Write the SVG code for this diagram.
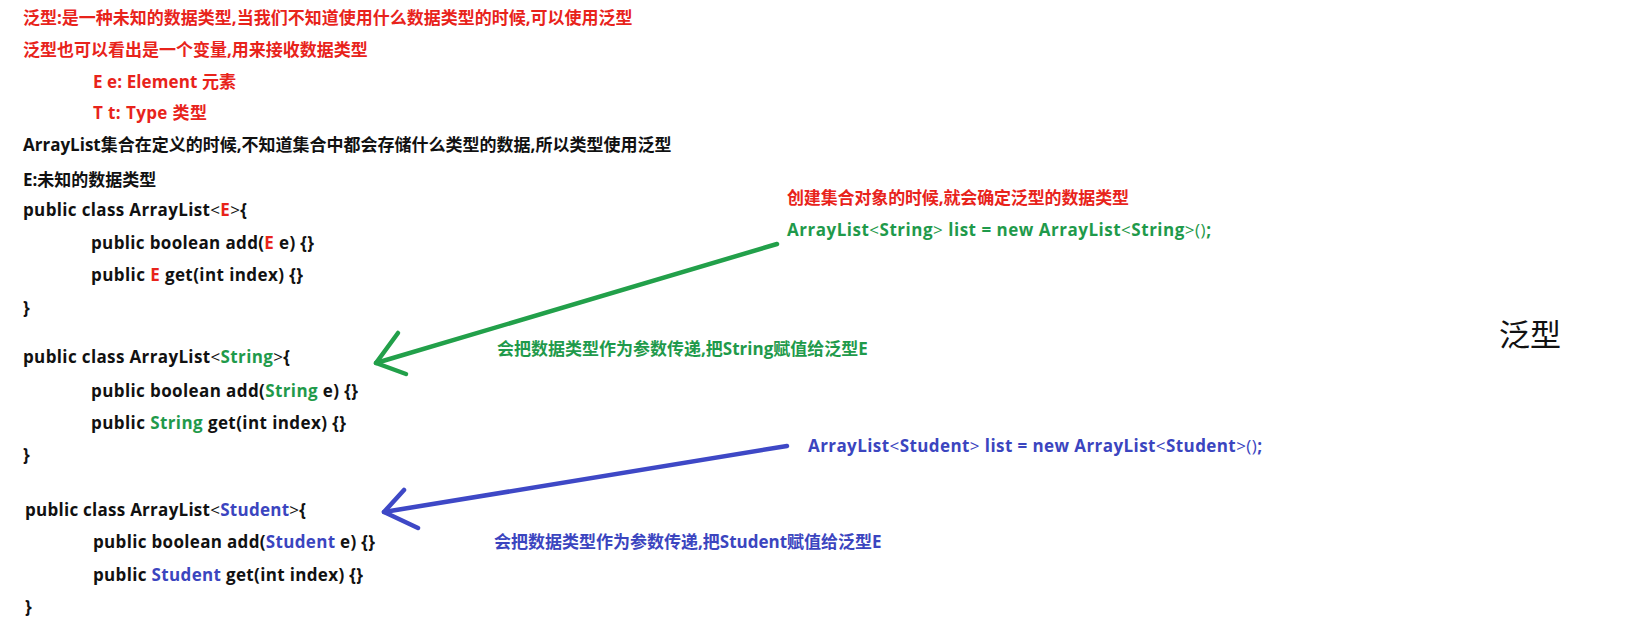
<svg xmlns="http://www.w3.org/2000/svg" width="1648" height="640" viewBox="0 0 1648 640">
<style>
text{font-family:"Open Sans","Noto Sans CJK SC",sans-serif;font-weight:bold;font-size:17px;fill:#111}
.r{fill:#e8231b}
.g{fill:#1f9a4b}
.b{fill:#3b45bf}
.t{font-weight:normal}
.big{font-weight:normal;font-size:31px;fill:#111}
.arr{fill:none;stroke-width:4.5;stroke-linecap:round;stroke-linejoin:round}
</style>
<rect width="1648" height="640" fill="#ffffff"/>
<g id="intro">
<text x="23" y="24" class="r">泛型:是一种未知的数据类型,当我们不知道使用什么数据类型的时候,可以使用泛型</text>
<text x="23" y="56" class="r">泛型也可以看出是一个变量,用来接收数据类型</text>
<text x="93" y="88" class="r" textLength="143">E e: Element 元素</text>
<text x="93" y="119" class="r" textLength="114">T t: Type 类型</text>
<text x="23" y="151">ArrayList集合在定义的时候,不知道集合中都会存储什么类型的数据,所以类型使用泛型</text>
<text x="23" y="186">E:未知的数据类型</text>
</g>
<g id="class-E">
<text x="23" y="216" textLength="224">public class ArrayList<tspan class="t">&lt;</tspan><tspan class="r">E</tspan><tspan class="t">&gt;</tspan>{</text>
<text x="91" y="249" textLength="223">public boolean add(<tspan class="r">E</tspan> e) {}</text>
<text x="91" y="281" textLength="212">public <tspan class="r">E</tspan> get(int index) {}</text>
<text x="23" y="314">}</text>
</g>
<g id="class-String">
<text x="23" y="363" textLength="267">public class ArrayList<tspan class="t">&lt;</tspan><tspan class="g">String</tspan><tspan class="t">&gt;</tspan>{</text>
<text x="91" y="397" textLength="267">public boolean add(<tspan class="g">String</tspan> e) {}</text>
<text x="91" y="429" textLength="255">public <tspan class="g">String</tspan> get(int index) {}</text>
<text x="23" y="461">}</text>
</g>
<g id="class-Student">
<text x="25" y="516" textLength="281">public class ArrayList<tspan class="t">&lt;</tspan><tspan class="b">Student</tspan><tspan class="t">&gt;</tspan>{</text>
<text x="93" y="548" textLength="282">public boolean add(<tspan class="b">Student</tspan> e) {}</text>
<text x="93" y="581" textLength="270">public <tspan class="b">Student</tspan> get(int index) {}</text>
<text x="25" y="613">}</text>
</g>
<g id="create-String">
<text x="787" y="204" class="r" textLength="342">创建集合对象的时候,就会确定泛型的数据类型</text>
<text x="787" y="236" class="g" textLength="424">ArrayList<tspan class="t">&lt;</tspan>String<tspan class="t">&gt;</tspan> list = new ArrayList<tspan class="t">&lt;</tspan>String<tspan class="t">&gt;()</tspan>;</text>
</g>
<g id="label-String">
<text x="497" y="355" class="g">会把数据类型作为参数传递,把String赋值给泛型E</text>
</g>
<g id="create-Student">
<text x="808" y="452" class="b" textLength="454">ArrayList<tspan class="t">&lt;</tspan>Student<tspan class="t">&gt;</tspan> list = new ArrayList<tspan class="t">&lt;</tspan>Student<tspan class="t">&gt;()</tspan>;</text>
</g>
<g id="label-Student">
<text x="494" y="548" class="b">会把数据类型作为参数传递,把Student赋值给泛型E</text>
</g>
<g id="title">
<text x="1499" y="346" class="big">泛型</text>
</g>
<g id="connectors">
<path class="arr" stroke="#22a04a" d="M777,244 L376,363"/>
<path class="arr" stroke="#22a04a" d="M398,333 L376,363 L406,374"/>
<path class="arr" stroke="#3e48c6" d="M787,446 L384,512"/>
<path class="arr" stroke="#3e48c6" d="M404,490 L384,512 L418,528"/>
</g>
</svg>
